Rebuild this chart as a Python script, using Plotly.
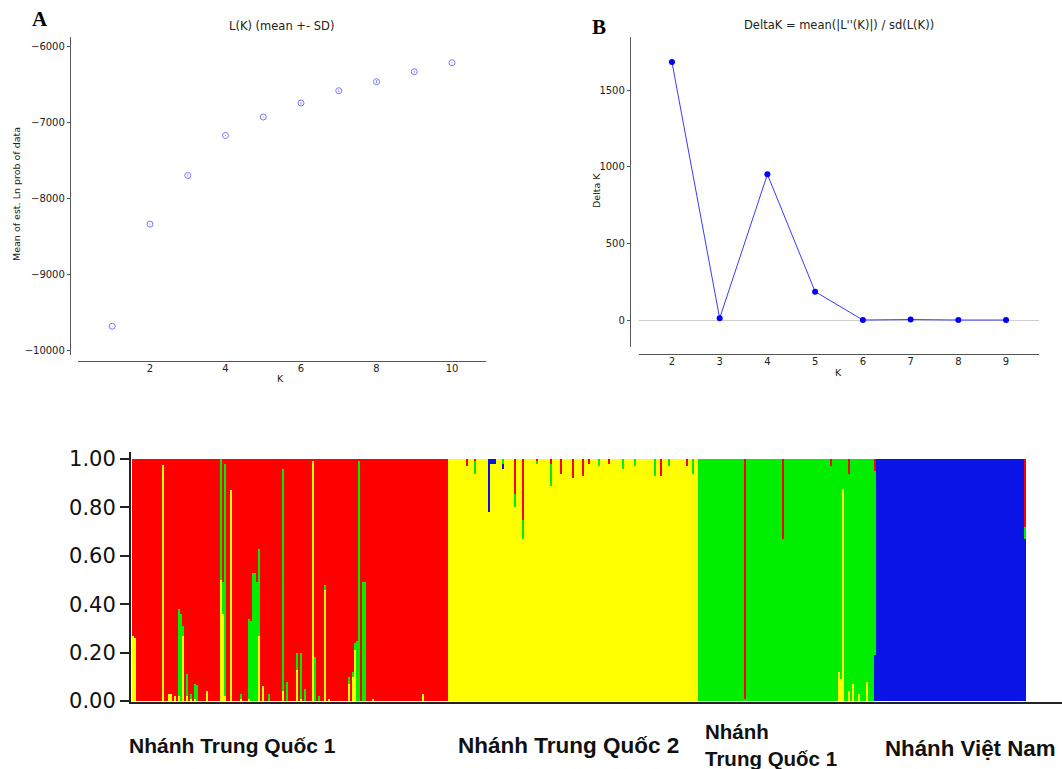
import plotly.graph_objects as go

W, H = 1062, 769

# ---------------- Panel A : L(K) ----------------
K_A = [1, 2, 3, 4, 5, 6, 7, 8, 9, 10]
lnP_mean = [-9675, -8333, -7693, -7167, -6925, -6741, -6579, -6461, -6329, -6211]
lnP_sd = [3, 4, 14, 6, 8, 18, 20, 22, 16, 8]
A_xticks = [2, 4, 6, 8, 10]
A_yticks = [-10000, -9000, -8000, -7000, -6000]
A_yticklabels = ["\u221210000", "\u22129000", "\u22128000", "\u22127000", "\u22126000"]

# ---------------- Panel B : Delta K ----------------
K_B = [2, 3, 4, 5, 6, 7, 8, 9]
delta_K = [1683, 11, 950, 185, 0, 3, 0, 0]
B_xticks = [2, 3, 4, 5, 6, 7, 8, 9]
B_yticks = [0, 500, 1000, 1500]

# ---------------- Panel C : STRUCTURE bar plot ----------------
# cluster order = stacking order (bottom -> top)
cluster_names = ["Yellow", "Blue", "Green", "Red"]
cluster_colors = ["#ffff00", "#0a14e6", "#00ee00", "#ff0000"]
group_labels = ["Nhánh Trung Quốc 1", "Nhánh Trung Quốc 2", "Nhánh<br>Trung Quốc 1", "Nhánh Việt Nam"]
group_sizes = [158, 125, 89, 75]
group_home = [3, 0, 2, 1]          # home cluster of each group (index in cluster_names)
C_yticks = [0.0, 0.2, 0.4, 0.6, 0.8, 1.0]
C_yticklabels = ["0.00", "0.20", "0.40", "0.60", "0.80", "1.00"]

# admixed individuals: (index, yellow, blue, green, red)
admixed = [
    # Nhánh Trung Quốc 1 (red)
    (0, .27, 0, 0, .73), (1, .26, 0, 0, .74), (15, .975, 0, 0, .025),
    (18, .03, 0, 0, .97), (19, .03, 0, 0, .97), (21, .02, 0, 0, .98),
    (23, .02, 0, .36, .62), (24, 0, 0, .36, .64), (25, .27, 0, .04, .69),
    (27, .02, 0, .09, .89), (29, .01, 0, .02, .97), (31, .01, 0, .06, .93),
    (32, 0, 0, .065, .935), (37, .04, 0, 0, .96),
    (44, .50, 0, .50, 0), (45, .36, 0, .13, .51), (46, .02, 0, .96, .02),
    (49, .87, 0, 0, .13), (54, .01, 0, .02, .97),
    (58, .01, 0, .33, .66), (59, 0, 0, .33, .67), (60, 0, 0, .53, .47),
    (61, 0, 0, .53, .47), (62, 0, 0, .49, .51), (63, .27, 0, .36, .37),
    (65, .06, 0, 0, .94), (68, 0, 0, .03, .97), (75, .04, 0, .92, .04),
    (77, 0, 0, .08, .92), (82, .13, 0, .07, .80), (84, .01, 0, .19, .80),
    (86, 0, 0, .05, .95), (90, .99, 0, 0, .01), (91, 0, 0, .18, .82),
    (93, 0, 0, .02, .98), (96, .46, 0, .02, .52), (98, .01, 0, 0, .99),
    (108, .07, 0, .03, .90), (110, .10, 0, .02, .88), (111, .21, 0, .03, .76),
    (112, 0, 0, .25, .75), (113, 0, 0, .99, .01), (115, 0, 0, .49, .51),
    (116, 0, 0, .49, .51), (120, .01, 0, 0, .99), (145, .03, 0, 0, .97),
    # Nhánh Trung Quốc 2 (yellow)
    (167, .97, 0, 0, .03), (171, .94, 0, .05, .01), (178, .78, .22, 0, 0),
    (179, .98, .02, 0, 0), (180, .98, .02, 0, 0), (181, .98, .02, 0, 0),
    (185, .96, .02, .02, 0), (191, .80, 0, .055, .145), (195, .67, 0, .08, .25),
    (202, .98, 0, .01, .01), (209, .89, 0, .09, .02), (214, .94, 0, 0, .06),
    (220, .92, 0, 0, .08), (225, .93, 0, 0, .07), (228, .98, 0, 0, .02),
    (233, .97, 0, .03, 0), (238, .98, 0, 0, .02), (245, .96, 0, .04, 0),
    (251, .97, 0, .03, 0), (261, .93, 0, .07, 0), (264, .93, 0, 0, .07),
    (268, .97, 0, .03, 0), (277, .97, 0, 0, .03), (280, .94, 0, .06, 0),
    # Nhánh Trung Quốc 1 (green)
    (306, 0, 0, .01, .99), (325, 0, 0, .67, .33), (349, 0, 0, .97, .03),
    (353, .12, 0, .88, 0), (354, .09, 0, .91, 0), (355, .875, 0, .125, 0),
    (358, .04, 0, .90, .06), (360, .07, 0, .93, 0), (363, .03, 0, .97, 0),
    (367, .08, 0, .92, 0), (371, 0, .19, .76, .05),
    # Nhánh Việt Nam (blue)
    (446, 0, .67, .05, .28),
]

# build membership matrix
N = sum(group_sizes)
q = [[0.0] * N for _ in cluster_names]
start = 0
for size, home in zip(group_sizes, group_home):
    for i in range(start, start + size):
        q[home][i] = 1.0
    start += size
for idx, *vals in admixed:
    for c, v in enumerate(vals):
        q[c][idx] = v

fig = go.Figure()

# Panel A
fig.add_trace(go.Scatter(
    x=K_A, y=lnP_mean, mode="markers",
    marker=dict(symbol="circle-open", size=6, color="#7878ff", line=dict(width=1, color="#7878ff")),
    error_y=dict(type="data", array=lnP_sd, visible=True, color="#7878ff", thickness=0.8, width=0),
    xaxis="x", yaxis="y", cliponaxis=False))

# Panel B
fig.add_trace(go.Scatter(
    x=K_B, y=delta_K, mode="lines+markers",
    line=dict(color="#3a3aff", width=1),
    marker=dict(size=6, color="#0000ff"),
    xaxis="x2", yaxis="y2", cliponaxis=False))

# Panel C
xs = [i + 0.5 for i in range(N)]
for c, name in enumerate(cluster_names):
    fig.add_trace(go.Bar(
        x=xs, y=q[c], width=1, name=name,
        marker=dict(color=cluster_colors[c], line=dict(width=0)),
        xaxis="x3", yaxis="y3"))


def px(x):
    return x / W


def py(y):
    return 1 - y / H


base_axis = dict(showline=True, linecolor="#555555", linewidth=1.3, showgrid=False,
                 automargin=False, tickcolor="#555555",
                 tickfont=dict(family="DejaVu Sans", size=10, color="#222222"))
x_small = dict(base_axis, ticks="", ticklabelstandoff=-2)
y_small = dict(base_axis, ticks="outside", ticklen=3)

fig.update_layout(
    width=W, height=H, margin=dict(l=0, r=0, t=0, b=0, pad=0, autoexpand=False),
    paper_bgcolor="white", plot_bgcolor="white", showlegend=False,
    barmode="stack", bargap=0,
    xaxis=dict(domain=[px(78), px(486)], anchor="free", position=py(361),
               range=[0.093, 10.9], tickvals=A_xticks, zeroline=False, **x_small),
    yaxis=dict(domain=[py(355), py(37)], anchor="free", position=px(70),
               range=[-10053, -5873], tickvals=A_yticks, ticktext=A_yticklabels,
               zeroline=False, **y_small),
    xaxis2=dict(domain=[px(639), px(1039)], anchor="free", position=py(354),
                range=[1.31, 9.69], tickvals=B_xticks, zeroline=False, **x_small),
    yaxis2=dict(domain=[py(347), py(37)], anchor="free", position=px(630),
                range=[-176, 1846], tickvals=B_yticks, **y_small,
                zeroline=True, zerolinecolor="#cfcfcf", zerolinewidth=1),
    xaxis3=dict(domain=[px(131), 1.0], anchor="y3", range=[-0.5, 465],
                showline=True, linecolor="#222222", linewidth=2, ticks="",
                showticklabels=False, showgrid=False, zeroline=False, automargin=False),
    yaxis3=dict(domain=[py(702), py(452)], anchor="x3", range=[-0.00413, 1.0289],
                tickvals=C_yticks, ticktext=C_yticklabels, automargin=False,
                showline=True, linecolor="#222222", linewidth=2, ticks="outside",
                ticklen=9, tickwidth=2, tickcolor="#222222", showgrid=False, zeroline=False,
                tickfont=dict(family="DejaVu Sans", size=21, color="#111111")),
)

ann = []


def add(text, x, y, size, family="DejaVu Sans", angle=0, xanchor="center", color="#222222"):
    ann.append(dict(text=text, x=px(x), y=py(y), xref="paper", yref="paper",
                    showarrow=False, xanchor=xanchor, yanchor="middle", textangle=angle,
                    align="left" if xanchor == "left" else "center",
                    font=dict(family=family, size=size, color=color)))


add("L(K) (mean +- SD)", 281, 26, 11.5)
add("DeltaK = mean(|L''(K)|) / sd(L(K))", 839, 25, 11.5)
add("<b>A</b>", 40, 19, 21, family="Liberation Serif", color="#000000")
add("<b>B</b>", 599, 27, 21, family="Liberation Serif", color="#000000")
add("Mean of est. Ln prob of data", 17, 194, 9.5, angle=-90)
add("K", 280, 378, 9.5)
add("Delta K", 596, 191, 9.5, angle=-90)
add("K", 838, 372, 9.5)

label_x = [127, 456, 703, 883]
label_y = [745, 745, 745, 748]
label_size = [21, 22.5, 20.5, 22.3]
for t, lx, ly, ls in zip(group_labels, label_x, label_y, label_size):
    add("<b>" + t + "</b>", lx, ly, ls, family="Liberation Sans", xanchor="left", color="#111111")

fig.update_layout(annotations=ann)

post = (
    "document.documentElement.style.margin='0';"
    "document.documentElement.style.overflow='hidden';"
    "document.body.style.margin='0';document.body.style.overflow='hidden';"
    "var d=document.getElementById('{plot_id}');"
    "d.style.position='fixed';d.style.left='0px';d.style.top='0px';"
)
fig.write_html("out.html", config={"displayModeBar": False}, post_script=post)
